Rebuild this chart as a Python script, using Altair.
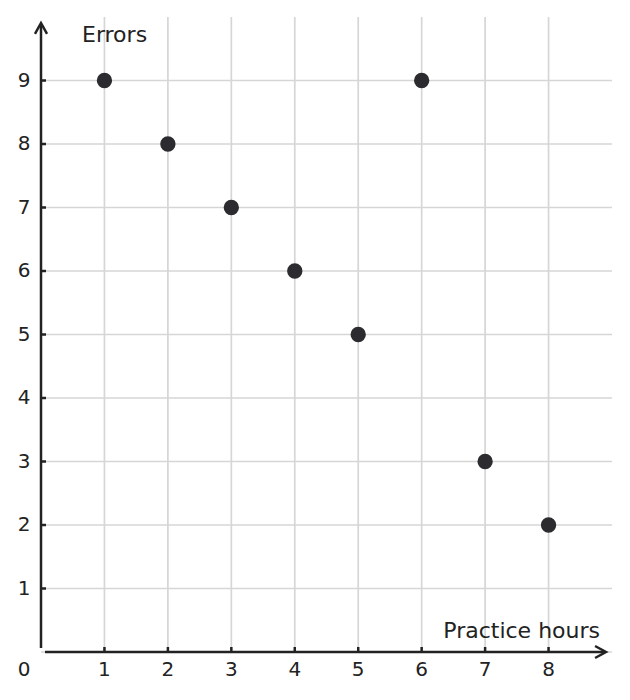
import altair as alt
import pandas as pd

# Data
hours = [1, 2, 3, 4, 5, 6, 7, 8]
errors = [9, 8, 7, 6, 5, 9, 3, 2]
x_ticks = [1, 2, 3, 4, 5, 6, 7, 8]
y_ticks = [1, 2, 3, 4, 5, 6, 7, 8, 9]
h_grid = [0, 1, 2, 3, 4, 5, 6, 7, 8, 9]
x_title = "Practice hours"
y_title = "Errors"
x_domain = [0, 9]
y_domain = [0, 10]

W, H = 571, 635
FONT = "DejaVu Sans"
INK = "#222222"
GRID = "#d6d6d6"

xs = alt.Scale(domain=x_domain, nice=False, zero=True)
ys = alt.Scale(domain=y_domain, nice=False, zero=True)

pts = pd.DataFrame({"h": hours, "e": errors})
vg = pd.DataFrame({"v": x_ticks, "lo": y_domain[0], "hi": y_domain[1]})
hg = pd.DataFrame({"v": h_grid, "lo": x_domain[0], "hi": x_domain[1]})
yt = pd.DataFrame({"v": y_ticks})
one = pd.DataFrame({"a": [0]})

vgrid = alt.Chart(vg).mark_rule(color=GRID, strokeWidth=1.7).encode(
    x=alt.X("v:Q", scale=xs, axis=None),
    y=alt.Y("lo:Q", scale=ys, axis=None), y2="hi:Q",
)
hgrid = alt.Chart(hg).mark_rule(color=GRID, strokeWidth=1.7).encode(
    y=alt.Y("v:Q", scale=ys, axis=None),
    x=alt.X("lo:Q", scale=xs, axis=None), x2="hi:Q",
)

yaxis = alt.Chart(one).mark_rule(color=INK, strokeWidth=2.5).encode(
    x=alt.value(0), y=alt.value(631), y2=alt.value(7)
)
xaxis = alt.Chart(one).mark_rule(color=INK, strokeWidth=2.5).encode(
    y=alt.value(H), x=alt.value(4), x2=alt.value(564)
)
xarrow = alt.Chart(one).mark_point(
    shape="M-1,-0.55L0,0L-1,0.55", size=480, filled=False,
    stroke=INK, strokeWidth=2.5, opacity=1
).encode(x=alt.value(565), y=alt.value(H))
yarrow = alt.Chart(one).mark_point(
    shape="M-0.55,1L0,0L0.55,1", size=480, filled=False,
    stroke=INK, strokeWidth=2.5, opacity=1
).encode(x=alt.value(0), y=alt.value(6))

xtk = alt.Chart(vg).mark_rule(color=INK, strokeWidth=2.5).encode(
    x=alt.X("v:Q", scale=xs, axis=None), y=alt.value(H), y2=alt.value(H - 5)
)
ytk = alt.Chart(yt).mark_rule(color=INK, strokeWidth=2.5).encode(
    y=alt.Y("v:Q", scale=ys, axis=None), x=alt.value(0), x2=alt.value(5)
)

xlab = alt.Chart(vg).mark_text(font=FONT, fontSize=20, color=INK, baseline="middle", align="center").encode(
    x=alt.X("v:Q", scale=xs, axis=None), y=alt.value(H + 18), text="v:Q"
)
ylab = alt.Chart(yt).mark_text(font=FONT, fontSize=20, color=INK, baseline="middle", align="center").encode(
    y=alt.Y("v:Q", scale=ys, axis=None), x=alt.value(-17), text="v:Q"
)
zero = alt.Chart(pd.DataFrame({"t": ["0"]})).mark_text(font=FONT, fontSize=20, color=INK, baseline="middle", align="center").encode(
    x=alt.value(-17), y=alt.value(H + 18), text="t:N"
)
ttl_x = alt.Chart(pd.DataFrame({"t": [x_title]})).mark_text(font=FONT, fontSize=22, color=INK, baseline="alphabetic", align="right").encode(
    x=alt.value(559), y=alt.value(621), text="t:N"
)
ttl_y = alt.Chart(pd.DataFrame({"t": [y_title]})).mark_text(font=FONT, fontSize=22, color=INK, baseline="alphabetic", align="left").encode(
    x=alt.value(41), y=alt.value(25), text="t:N"
)

dots = alt.Chart(pts).mark_circle(size=235, color="#2b2b30", opacity=1).encode(
    x=alt.X("h:Q", scale=xs, axis=None),
    y=alt.Y("e:Q", scale=ys, axis=None),
)

chart = alt.layer(
    vgrid, hgrid, xtk, ytk, yaxis, xaxis, xarrow, yarrow,
    xlab, ylab, zero, ttl_x, ttl_y, dots
).properties(
    width=W, height=H,
    autosize=alt.AutoSizeParams(type="none"),
    padding={"left": 33, "top": 9, "right": 10, "bottom": 40},
).configure_view(stroke=None)

chart.save("out.html", embed_options={"renderer": "svg", "actions": False})
